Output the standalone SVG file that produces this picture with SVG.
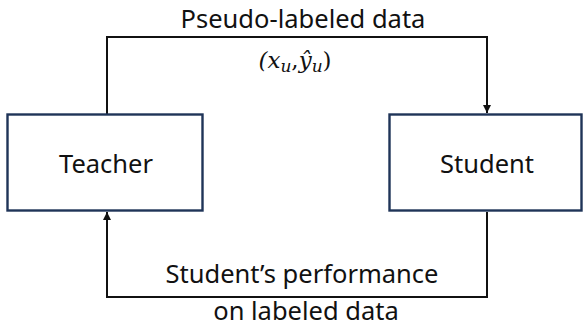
<svg xmlns="http://www.w3.org/2000/svg" width="583" height="326" viewBox="0 0 583 326">
<style>
.box{fill:#fff;stroke:#1f3458;stroke-width:2.4}
.lbl{font-family:"Noto Sans","Liberation Sans",sans-serif;font-size:25.5px;fill:#111;text-anchor:middle}
.math{font-family:"DejaVu Serif","Liberation Serif",serif;font-style:italic;font-size:23px;fill:#111;text-anchor:middle}
.conn{fill:none;stroke:#111;stroke-width:2}
</style>
<defs>
<marker id="arr" viewBox="0 0 10 10" refX="10" refY="5" markerWidth="9" markerHeight="8" orient="auto" markerUnits="userSpaceOnUse">
<path d="M0,0L10,5L0,10z" fill="#111"/>
</marker>
</defs>
<rect width="583" height="326" fill="#fff"/>
<g id="connectors">
<path class="conn" d="M107,114V37H487V113" marker-end="url(#arr)"/>
<path class="conn" d="M487,212V297H107V212" marker-end="url(#arr)"/>
<text class="lbl" x="303" y="28">Pseudo-labeled data</text>
<text class="math" x="295" y="68">(<tspan>x</tspan><tspan font-size="17" dy="4">u</tspan><tspan dy="-4" font-style="normal">,</tspan><tspan>ŷ</tspan><tspan font-size="17" dy="4">u</tspan><tspan dy="-4" font-style="normal">)</tspan></text>
<text class="lbl" x="302" y="283">Student’s performance</text>
<text class="lbl" x="306" y="320">on labeled data</text>
</g>
<g id="teacher">
<rect class="box" x="7.5" y="114.5" width="195" height="96"/>
<text class="lbl" x="106" y="173">Teacher</text>
</g>
<g id="student">
<rect class="box" x="389.5" y="114.5" width="192" height="96"/>
<text class="lbl" x="487" y="173">Student</text>
</g>
</svg>
